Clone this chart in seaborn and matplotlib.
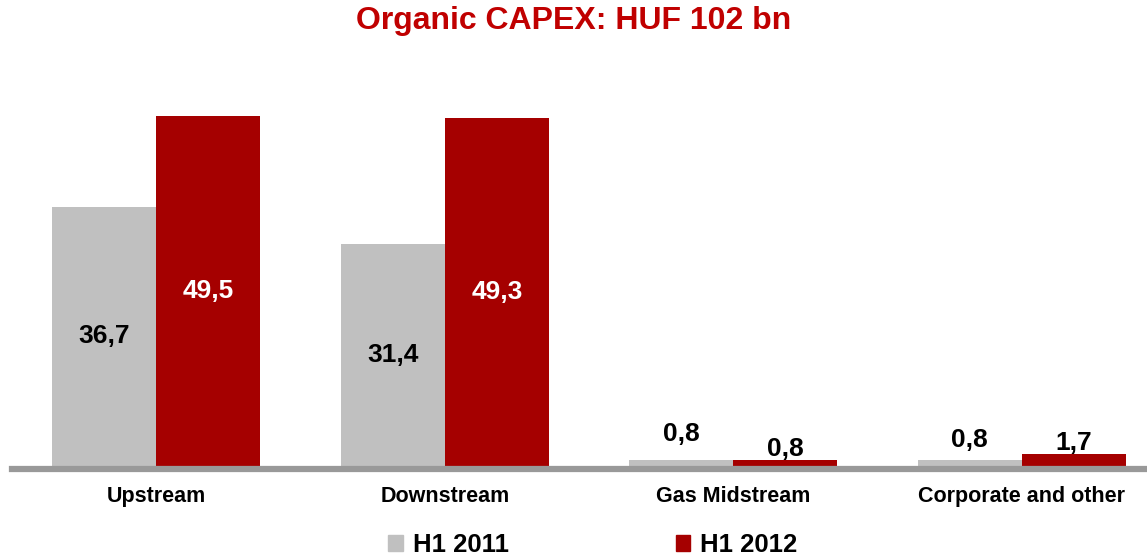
import pandas as pd
import matplotlib.pyplot as plt
import seaborn as sns
from matplotlib.patches import Patch

# chart data
segments = ['Upstream', 'Downstream', 'Gas Midstream', 'Corporate and other']
periods = ['H1 2011', 'H1 2012']
capex_2011 = [36.7, 31.4, 0.8, 0.8]
capex_2012 = [49.5, 49.3, 0.8, 1.7]

colors = {'H1 2011': '#c0c0c0', 'H1 2012': '#a50000'}

df = pd.DataFrame({
    'Segment': segments * 2,
    'Period': [periods[0]] * 4 + [periods[1]] * 4,
    'Value': capex_2011 + capex_2012,
})

sns.set_style('white')
plt.rcParams['font.family'] = ['Liberation Sans', 'DejaVu Sans']
plt.rcParams['text.color'] = 'black'
plt.rcParams['xtick.color'] = 'black'

fig = plt.figure(figsize=(11.47, 5.56), dpi=100)
ax = fig.add_axes([12 / 1147, 90 / 556, 1 - 12 / 1147, 390 / 556])

sns.barplot(data=df, x='Segment', y='Value', hue='Period', order=segments,
            hue_order=periods, palette=colors, width=0.722, saturation=1,
            linewidth=0, ax=ax, legend=False)

ax.set_xlim(-0.5, 3.434)
ax.set_ylim(0, 55.2)
for s in ['top', 'right', 'left']:
    ax.spines[s].set_visible(False)
ax.spines['bottom'].set_color('#999999')
ax.spines['bottom'].set_linewidth(4.5)
ax.spines['bottom'].set_position(('outward', 2.2))
ax.set_yticks([])
ax.set_xlabel('')
ax.set_ylabel('')
ax.tick_params(axis='x', length=0, pad=12, labelsize=15.5, labelcolor='black')
for lbl in ax.get_xticklabels():
    lbl.set_fontweight('bold')

# value labels
small_offsets = {('H1 2011', 2): 19, ('H1 2012', 2): 8,
                 ('H1 2011', 3): 15, ('H1 2012', 3): 8}
for container, period in zip(ax.containers, periods):
    for i, bar in enumerate(container):
        v = bar.get_height()
        x = bar.get_x() + bar.get_width() / 2
        txt = f'{v:.1f}'.replace('.', ',')
        if v > 5:
            col = 'black' if period == 'H1 2011' else 'white'
            ax.text(x, v / 2, txt, ha='center', va='center', color=col,
                    fontsize=19, fontweight='bold')
        else:
            ax.annotate(txt, (x, v), xytext=(0, small_offsets[(period, i)]),
                        textcoords='offset points', ha='center', va='center',
                        color='black', fontsize=19, fontweight='bold')

fig.text(0.5, 0.962, 'Organic CAPEX: HUF 102 bn', ha='center', va='center',
         color='#c00000', fontsize=23, fontweight='bold')

handles = [Patch(color=colors[p]) for p in periods]
fig.legend(handles, periods, loc='center', bbox_to_anchor=(0.517, 0.02),
           ncol=2, frameon=False, handlelength=0.55, handleheight=0.55,
           handletextpad=0.4, columnspacing=6.5,
           prop={'size': 18.5, 'weight': 'bold'})

fig.savefig('out.png', dpi=100)
